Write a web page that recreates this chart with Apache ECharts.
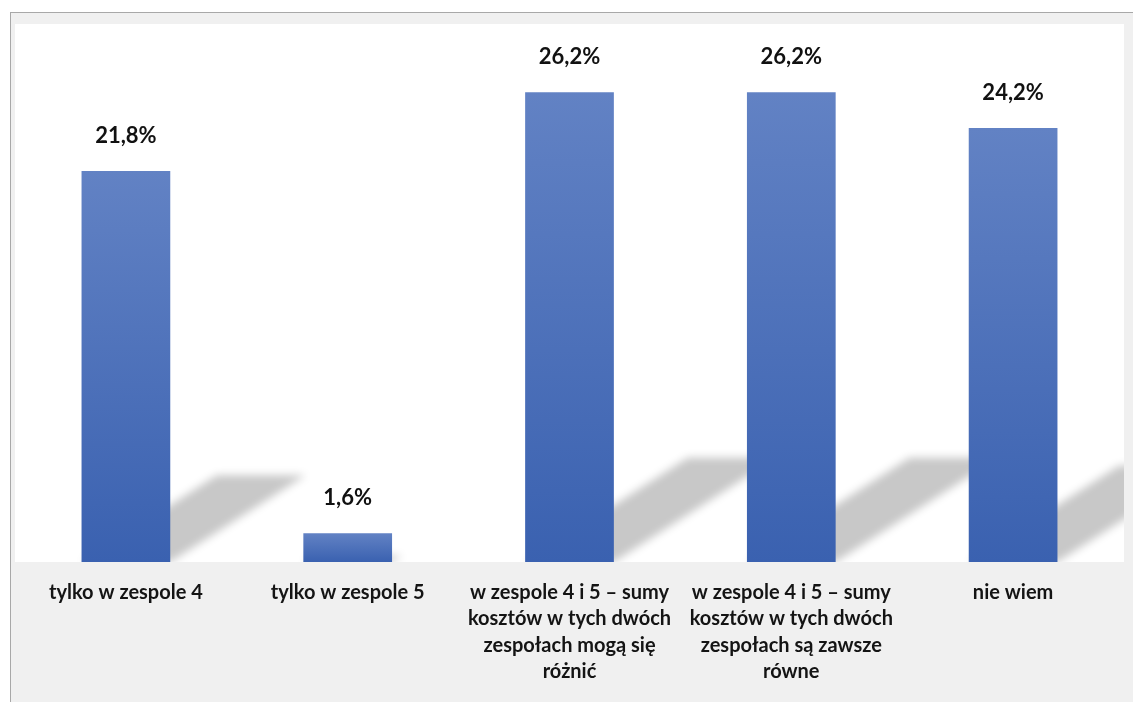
<!DOCTYPE html>
<html>
<head>
<meta charset="utf-8">
<script src="https://cdn.jsdelivr.net/npm/echarts@6/dist/echarts.min.js"></script>
<style>
  html, body { margin: 0; padding: 0; background: #ffffff; }
  #frame {
    position: absolute; left: 10px; top: 12px; right: 0; bottom: 0;
    background: #f0f0f0;
    border-left: 1px solid #a8a8a8; border-top: 1px solid #a8a8a8;
  }
  #chart { position: absolute; left: 0; top: 0; width: 1133px; height: 702px; }
</style>
</head>
<body>
<div id="frame"></div>
<div id="chart"></div>
<script>
// Answer options (Polish survey question about cost sums in teams 4 and 5)
const categories = [
  'tylko w zespole 4',
  'tylko w zespole 5',
  'w zespole 4 i 5 – sumy\nkosztów w tych dwóch\nzespołach mogą się\nróżnić',
  'w zespole 4 i 5 – sumy\nkosztów w tych dwóch\nzespołach są zawsze\nrówne',
  'nie wiem'
];
// Share of answers, percent
const shares = [21.8, 1.6, 26.2, 26.2, 24.2];

const BAR_RATIO = 0.4;
const fmtPct = v => v.toFixed(1).replace('.', ',') + '%';

const chart = echarts.init(document.getElementById('chart'), null, { renderer: 'canvas' });

chart.setOption({
  backgroundColor: 'transparent',
  animation: false,
  grid: {
    left: 15, right: 9, top: 24, bottom: 140,
    show: true, backgroundColor: '#ffffff', borderWidth: 0
  },
  xAxis: {
    type: 'category',
    data: categories,
    axisLine: { show: false },
    axisTick: { show: false },
    axisLabel: {
      interval: 0,
      margin: 17,
      color: '#141414',
      fontFamily: 'Lato',
      fontWeight: 'bold',
      fontSize: 20,
      lineHeight: 26.5,
      align: 'center'
    }
  },
  yAxis: {
    type: 'value',
    min: 0, max: 30,
    show: false,
    splitLine: { show: false }
  },
  series: [
    {
      // soft floor shadow cast by each bar
      type: 'custom',
      clip: true,
      z: 1,
      silent: true,
      data: shares.map((v, i) => [i, v]),
      renderItem: function (params, api) {
        const base = api.coord([api.value(0), 0]);
        const top = api.coord([api.value(0), api.value(1)]);
        const bw = api.size([1, 0])[0] * BAR_RATIO;
        const h = base[1] - top[1];
        const dx = h * 0.346, dy = h * 0.222;
        const x0 = base[0] - bw / 2, x1 = base[0] + bw / 2, y0 = base[1];
        const off = 3000;
        return {
          type: 'polygon',
          shape: {
            points: [
              [x0 - off, y0], [x1 - off, y0],
              [x1 + dx - off, y0 - dy], [x0 + dx - off, y0 - dy]
            ]
          },
          style: {
            fill: '#c8c8c8',
            shadowColor: '#c8c8c8',
            shadowBlur: 9,
            shadowOffsetX: off,
            shadowOffsetY: 0
          }
        };
      }
    },
    {
      type: 'bar',
      z: 3,
      data: shares,
      barWidth: (BAR_RATIO * 100) + '%',
      itemStyle: {
        color: new echarts.graphic.LinearGradient(0, 0, 0, 1, [
          { offset: 0, color: '#6282c4' },
          { offset: 1, color: '#3a61b0' }
        ])
      },
      label: {
        show: true,
        position: 'top',
        distance: 24,
        formatter: p => fmtPct(p.value),
        color: '#111111',
        fontFamily: 'Lato',
        fontWeight: 'bold',
        fontSize: 22
      }
    }
  ]
});
</script>
</body>
</html>
